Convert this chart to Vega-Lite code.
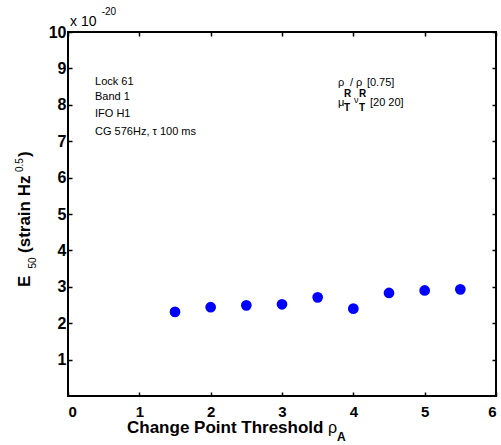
{
  "$schema": "https://vega.github.io/schema/vega-lite/v6.json",
  "width": 428,
  "height": 364,
  "autosize": {"type": "none"},
  "padding": {"left": 68, "top": 32, "right": 5, "bottom": 49},
  "background": "white",
  "config": {
    "view": {"stroke": "black", "strokeWidth": 2},
    "axis": {
      "domain": false, "grid": false,
      "tickColor": "black", "tickWidth": 1.5, "tickSize": 4, "offset": -4,
      "labelFont": "Liberation Sans", "labelFontWeight": "bold", "labelFontSize": 16, "labelColor": "black"
    },
    "text": {"font": "Liberation Sans", "color": "black"}
  },
  "datasets": {
    "pts": [
      {"threshold": 1.5, "e50": 2.31},
      {"threshold": 2.0, "e50": 2.44},
      {"threshold": 2.5, "e50": 2.49},
      {"threshold": 3.0, "e50": 2.52},
      {"threshold": 3.5, "e50": 2.71},
      {"threshold": 4.0, "e50": 2.40},
      {"threshold": 4.5, "e50": 2.83},
      {"threshold": 5.0, "e50": 2.90},
      {"threshold": 5.5, "e50": 2.93}
    ],
    "notes": [
      {"x": 0.379, "y": 8.63, "t": "Lock 61"},
      {"x": 0.379, "y": 8.21, "t": "Band 1"},
      {"x": 0.379, "y": 7.74, "t": "IFO H1"},
      {"x": 0.379, "y": 7.26, "t": "CG 576Hz, τ 100 ms"},
      {"x": 3.785, "y": 8.60, "t": "ρ"},
      {"x": 3.953, "y": 8.60, "t": "/ ρ"},
      {"x": 4.19, "y": 8.60, "t": "[0.75]"},
      {"x": 3.785, "y": 8.05, "t": "μ"},
      {"x": 4.234, "y": 8.05, "t": "[20 20]"}
    ],
    "small": [
      {"x": 4.01, "y": 8.13, "t": "ν"}
    ],
    "subs": [
      {"x": 3.869, "y": 8.30, "t": "R"},
      {"x": 4.08, "y": 8.30, "t": "R"},
      {"x": 3.869, "y": 7.91, "t": "T"},
      {"x": 4.08, "y": 7.91, "t": "T"}
    ],
    "exp": [{"x": 0.028, "y": 10.28, "t": "x 10"}],
    "expsup": [{"x": 0.472, "y": 10.56, "t": "-20"}],
    "xtitle": [{"x": 0.827, "y": -1.016, "t": "Change Point Threshold"}],
    "xrho": [{"x": 3.645, "y": -1.016, "t": "ρ"}],
    "xsub": [{"x": 3.771, "y": -1.126, "t": "A"}],
    "ytitle": [
      {"x": -0.533, "y": 2.995, "t": "E"},
      {"x": -0.533, "y": 3.929, "t": "(strain Hz"},
      {"x": -0.533, "y": 6.566, "t": ")"}
    ],
    "ysmall": [
      {"x": -0.455, "y": 3.50, "t": "50"},
      {"x": -0.631, "y": 6.154, "t": "0.5"}
    ]
  },
  "layer": [
    {
      "data": {"name": "pts"},
      "mark": {"type": "point", "filled": true, "color": "#0000ff", "opacity": 1, "size": 115},
      "encoding": {
        "x": {"field": "threshold", "type": "quantitative",
              "scale": {"domain": [0, 6], "nice": false},
              "axis": {"orient": "bottom", "title": null, "values": [0,1,2,3,4,5,6], "labelPadding": 8, "labelFontSize": 15}},
        "y": {"field": "e50", "type": "quantitative",
              "scale": {"domain": [0, 10], "nice": false},
              "axis": {"orient": "left", "title": null, "values": [1,2,3,4,5,6,7,8,9,10], "labelPadding": 2}}
      }
    },
    {
      "data": {"name": "pts"},
      "mark": {"type": "point", "opacity": 0},
      "encoding": {
        "x": {"field": "threshold", "type": "quantitative",
              "axis": {"orient": "top", "title": null, "labels": false, "values": [0,1,2,3,4,5,6]}},
        "y": {"field": "e50", "type": "quantitative",
              "axis": {"orient": "right", "title": null, "labels": false, "values": [1,2,3,4,5,6,7,8,9,10]}}
      }
    },
    {
      "data": {"name": "notes"},
      "mark": {"type": "text", "align": "left", "baseline": "middle", "fontSize": 11},
      "encoding": {"x": {"field": "x", "type": "quantitative", "axis": null}, "y": {"field": "y", "type": "quantitative", "axis": null}, "text": {"field": "t"}}
    },
    {
      "data": {"name": "small"},
      "mark": {"type": "text", "align": "left", "baseline": "middle", "fontSize": 9},
      "encoding": {"x": {"field": "x", "type": "quantitative", "axis": null}, "y": {"field": "y", "type": "quantitative", "axis": null}, "text": {"field": "t"}}
    },
    {
      "data": {"name": "subs"},
      "mark": {"type": "text", "align": "left", "baseline": "middle", "fontSize": 10, "fontWeight": "bold"},
      "encoding": {"x": {"field": "x", "type": "quantitative", "axis": null}, "y": {"field": "y", "type": "quantitative", "axis": null}, "text": {"field": "t"}}
    },
    {
      "data": {"name": "exp"},
      "mark": {"type": "text", "align": "left", "baseline": "middle", "fontSize": 14},
      "encoding": {"x": {"field": "x", "type": "quantitative", "axis": null}, "y": {"field": "y", "type": "quantitative", "axis": null}, "text": {"field": "t"}}
    },
    {
      "data": {"name": "expsup"},
      "mark": {"type": "text", "align": "left", "baseline": "middle", "fontSize": 10},
      "encoding": {"x": {"field": "x", "type": "quantitative", "axis": null}, "y": {"field": "y", "type": "quantitative", "axis": null}, "text": {"field": "t"}}
    },
    {
      "data": {"name": "xtitle"},
      "mark": {"type": "text", "align": "left", "baseline": "alphabetic", "fontSize": 17, "fontWeight": "bold"},
      "encoding": {"x": {"field": "x", "type": "quantitative", "axis": null}, "y": {"field": "y", "type": "quantitative", "axis": null}, "text": {"field": "t"}}
    },
    {
      "data": {"name": "xrho"},
      "mark": {"type": "text", "align": "left", "baseline": "alphabetic", "fontSize": 16},
      "encoding": {"x": {"field": "x", "type": "quantitative", "axis": null}, "y": {"field": "y", "type": "quantitative", "axis": null}, "text": {"field": "t"}}
    },
    {
      "data": {"name": "xsub"},
      "mark": {"type": "text", "align": "left", "baseline": "middle", "fontSize": 12, "fontWeight": "bold"},
      "encoding": {"x": {"field": "x", "type": "quantitative", "axis": null}, "y": {"field": "y", "type": "quantitative", "axis": null}, "text": {"field": "t"}}
    },
    {
      "data": {"name": "ytitle"},
      "mark": {"type": "text", "align": "left", "baseline": "alphabetic", "fontSize": 17, "fontWeight": "bold", "angle": 270},
      "encoding": {"x": {"field": "x", "type": "quantitative", "axis": null}, "y": {"field": "y", "type": "quantitative", "axis": null}, "text": {"field": "t"}}
    },
    {
      "data": {"name": "ysmall"},
      "mark": {"type": "text", "align": "left", "baseline": "alphabetic", "fontSize": 10, "angle": 270},
      "encoding": {"x": {"field": "x", "type": "quantitative", "axis": null}, "y": {"field": "y", "type": "quantitative", "axis": null}, "text": {"field": "t"}}
    }
  ],
  "resolve": {"axis": {"x": "independent", "y": "independent"}}
}
